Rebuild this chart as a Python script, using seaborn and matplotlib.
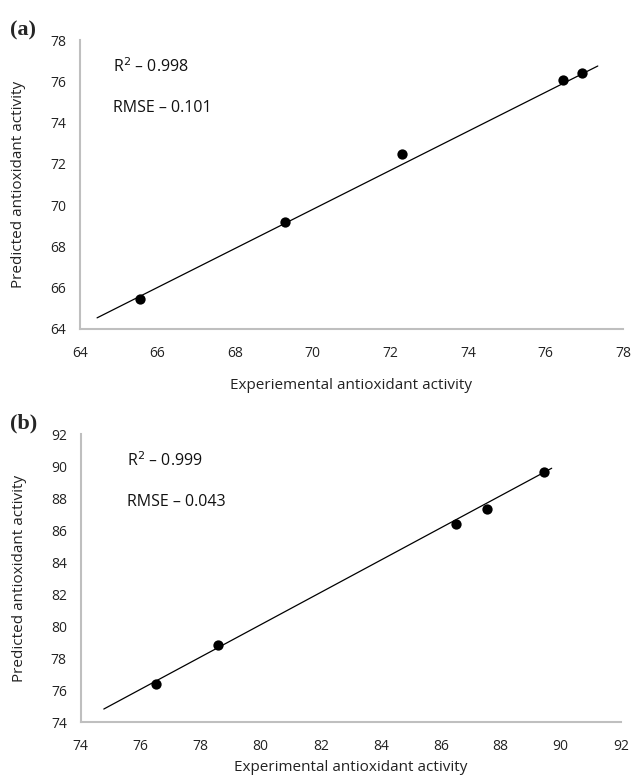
import matplotlib
matplotlib.use("Agg")
import matplotlib.pyplot as plt
import seaborn as sns
import pandas as pd

# Panel (a) data
exp_a = [65.55, 69.28, 72.31, 76.45, 76.95]
pred_a = [65.45, 69.18, 72.48, 76.06, 76.40]
fit_a_x = [64.44, 77.35]
fit_a_y = [64.54, 76.74]
ticks_a = [64, 66, 68, 70, 72, 74, 76, 78]

# Panel (b) data
exp_b = [76.52, 78.58, 86.52, 87.55, 89.45]
pred_b = [76.36, 78.84, 86.36, 87.30, 89.60]
fit_b_x = [74.77, 89.70]
fit_b_y = [74.81, 89.86]
ticks_b = [74, 76, 78, 80, 82, 84, 86, 88, 90, 92]

sns.set_style("white")
plt.rcParams['font.family'] = ['Open Sans', 'DejaVu Sans']

fig = plt.figure(figsize=(6.32, 7.77), dpi=100)
ax_a = fig.add_axes([80/632, (777-329)/777, 543/632, 289/777])
ax_b = fig.add_axes([80.7/632, (777-722)/777, 540/632, 288/777])

panels = [
    (ax_a, exp_a, pred_a, fit_a_x, fit_a_y, ticks_a, "Experiemental antioxidant activity",
     "0.998", "0.101", 0.061, "(a)", 30, -0.17),
    (ax_b, exp_b, pred_b, fit_b_x, fit_b_y, ticks_b, "Experimental antioxidant activity",
     "0.999", "0.043", 0.086, "(b)", 423, -0.132),
]

for ax, ex, pr, fx, fy, ticks, xlabel, r2, rmse, tx, plabel, ply, xly in panels:
    df = pd.DataFrame({"exp": ex, "pred": pr})
    fit = pd.DataFrame({"x": fx, "y": fy})
    sns.lineplot(data=fit, x="x", y="y", ax=ax, color="black", linewidth=0.9)
    sns.scatterplot(data=df, x="exp", y="pred", ax=ax, color="black", s=55,
                    edgecolor="black", linewidth=0, zorder=3)
    ax.set_xlim(ticks[0], ticks[-1])
    ax.set_ylim(ticks[0], ticks[-1])
    ax.set_xticks(ticks)
    ax.set_yticks(ticks)
    ax.tick_params(axis="both", length=0, labelsize=10, colors="#222222")
    ax.tick_params(axis="x", pad=12)
    ax.tick_params(axis="y", pad=10)
    for s in ["top", "right"]:
        ax.spines[s].set_visible(False)
    for s in ["left", "bottom"]:
        ax.spines[s].set_color("#BFBFBF")
        ax.spines[s].set_linewidth(1.5)
    ax.set_xlabel(xlabel, fontsize=11, color="#222222")
    ax.set_ylabel("Predicted antioxidant activity", fontsize=11, color="#222222")
    ax.xaxis.set_label_coords(0.5, xly)
    ax.yaxis.set_label_coords(-0.099, 0.5)
    ax.text(tx, 0.907, r"R$^{2}$ – " + r2, transform=ax.transAxes, fontsize=11.5,
            va="center", ha="left", color="#111111")
    ax.text(tx, 0.765, "RMSE – " + rmse, transform=ax.transAxes, fontsize=11.5,
            va="center", ha="left", color="#111111")
    fig.text(10/632, 1 - ply/777, plabel, fontsize=16, fontweight="bold",
             family="Liberation Serif", va="center", ha="left")

fig.savefig("out.png", dpi=100)
